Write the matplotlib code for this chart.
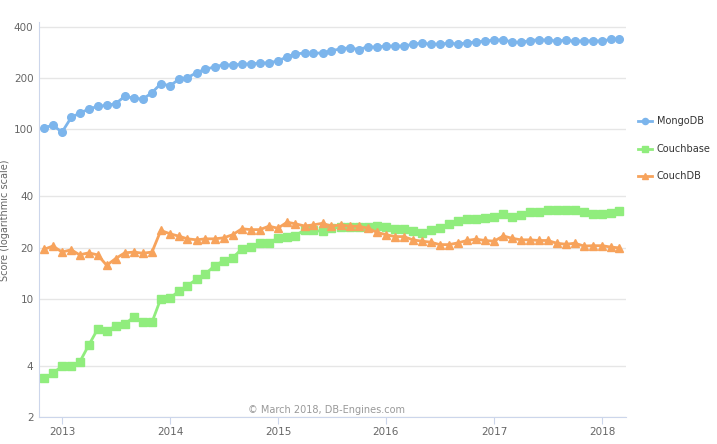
import pandas as pd
import matplotlib.pyplot as plt
import matplotlib.dates as mdates
import numpy as np

# monthly scores, Nov 2012 .. Mar 2018
months = pd.date_range('2012-11-01', '2018-03-01', freq='MS')

mongodb = [102, 105, 96, 117, 124, 131, 136, 138, 141, 156, 152, 150, 164, 185, 180, 197,
           201, 215, 226, 232, 240, 238, 242, 242, 245, 246, 252, 267, 277, 281, 280, 281,
           290, 297, 302, 294, 306, 304, 309, 309, 309, 316, 322, 316, 318, 320, 318, 322,
           326, 331, 334, 337, 326, 325, 332, 337, 334, 331, 334, 329, 332, 331, 331, 338, 341]

couchbase = [3.38, 3.62, 4.0, 4.0, 4.2, 5.3, 6.58, 6.44, 6.88, 7.05, 7.8, 7.3, 7.24, 10.0,
             10.05, 11.1, 11.9, 13.0, 14.0, 15.6, 16.7, 17.4, 19.6, 20.1, 21.4, 21.3, 22.7,
             23.2, 23.5, 25.4, 25.2, 24.9, 26.1, 26.3, 26.3, 26.5, 26.3, 26.7, 26.5, 25.6,
             25.8, 25.1, 24.2, 25.4, 26.1, 27.4, 28.8, 29.4, 29.3, 29.7, 30.1, 31.4, 30.1,
             30.9, 32.6, 32.2, 33.1, 33.1, 33.1, 33.1, 32.6, 31.6, 31.6, 31.9, 33.0]

couchdb = [19.5, 20.4, 18.8, 19.4, 18.1, 18.6, 18.1, 15.7, 17.2, 18.6, 18.8, 18.5, 18.8,
           25.2, 24.1, 23.3, 22.5, 22.2, 22.5, 22.5, 22.8, 23.8, 25.8, 25.5, 25.5, 26.7,
           26.0, 28.2, 27.6, 26.8, 27.2, 27.8, 26.7, 27.2, 26.7, 26.7, 26.0, 24.6, 23.8,
           23.2, 23.2, 22.2, 21.8, 21.5, 20.8, 20.8, 21.3, 22.0, 22.4, 22.0, 21.8, 23.4,
           22.7, 22.2, 22.2, 22.0, 22.0, 21.2, 20.9, 21.2, 20.4, 20.5, 20.5, 20.1, 19.9]

yticks = [2, 4, 10, 20, 40, 100, 200, 400]
years = ['2013', '2014', '2015', '2016', '2017', '2018']

grey = '#666666'
axis_col = '#ccd6eb'

fig = plt.figure(figsize=(7.17, 4.44), dpi=100)
ax = fig.add_axes([39/717, 1-417/444, (626-39)/717, (417-22)/444])

ax.plot(months, mongodb, color='#7cb5ec', lw=2, marker='o', ms=5.5, mec='#7cb5ec', label='MongoDB')
ax.plot(months, couchbase, color='#90ed7d', lw=2, marker='s', ms=5.5, mec='#90ed7d', label='Couchbase')
ax.plot(months, couchdb, color='#f7a35c', lw=2, marker='^', ms=5.5, mec='#f7a35c', label='CouchDB')

ax.set_yscale('log')
ax.set_ylim(2, 428)
ax.set_yticks(yticks)
ax.set_yticklabels([str(t) for t in yticks])
ax.yaxis.set_minor_locator(plt.NullLocator())
ax.set_xlim(pd.Timestamp('2012-10-15'), pd.Timestamp('2018-03-23'))
ax.set_xticks([pd.Timestamp(y + '-01-01') for y in years])
ax.set_xticklabels(years)

ax.grid(axis='y', color='#e6e6e6', lw=1)
ax.set_axisbelow(True)
for s in ['top', 'right']:
    ax.spines[s].set_visible(False)
ax.spines['left'].set_color(axis_col)
ax.spines['bottom'].set_color(axis_col)
ax.tick_params(axis='y', length=0, labelsize=7.5, colors=grey, pad=4)
ax.tick_params(axis='x', length=5, color=axis_col, labelsize=7.5, labelcolor=grey, pad=2)

fig.text(5/717, 1-220/444, 'Score (logarithmic scale)', rotation=90, ha='center', va='center',
         fontsize=7, color=grey)
ax.text(0.49, 0.005, '\u00a9 March 2018, DB-Engines.com', transform=ax.transAxes,
        ha='center', va='bottom', fontsize=7, color='#999999')

ax.legend(loc='upper left', bbox_to_anchor=((638-39)/587, 0.761), frameon=False, fontsize=7,
          borderaxespad=0, borderpad=0, handlelength=1.44, markerscale=0.8,
          labelspacing=1.8, handletextpad=0.5, labelcolor='#333333')

plt.savefig('out.png', dpi=100)
